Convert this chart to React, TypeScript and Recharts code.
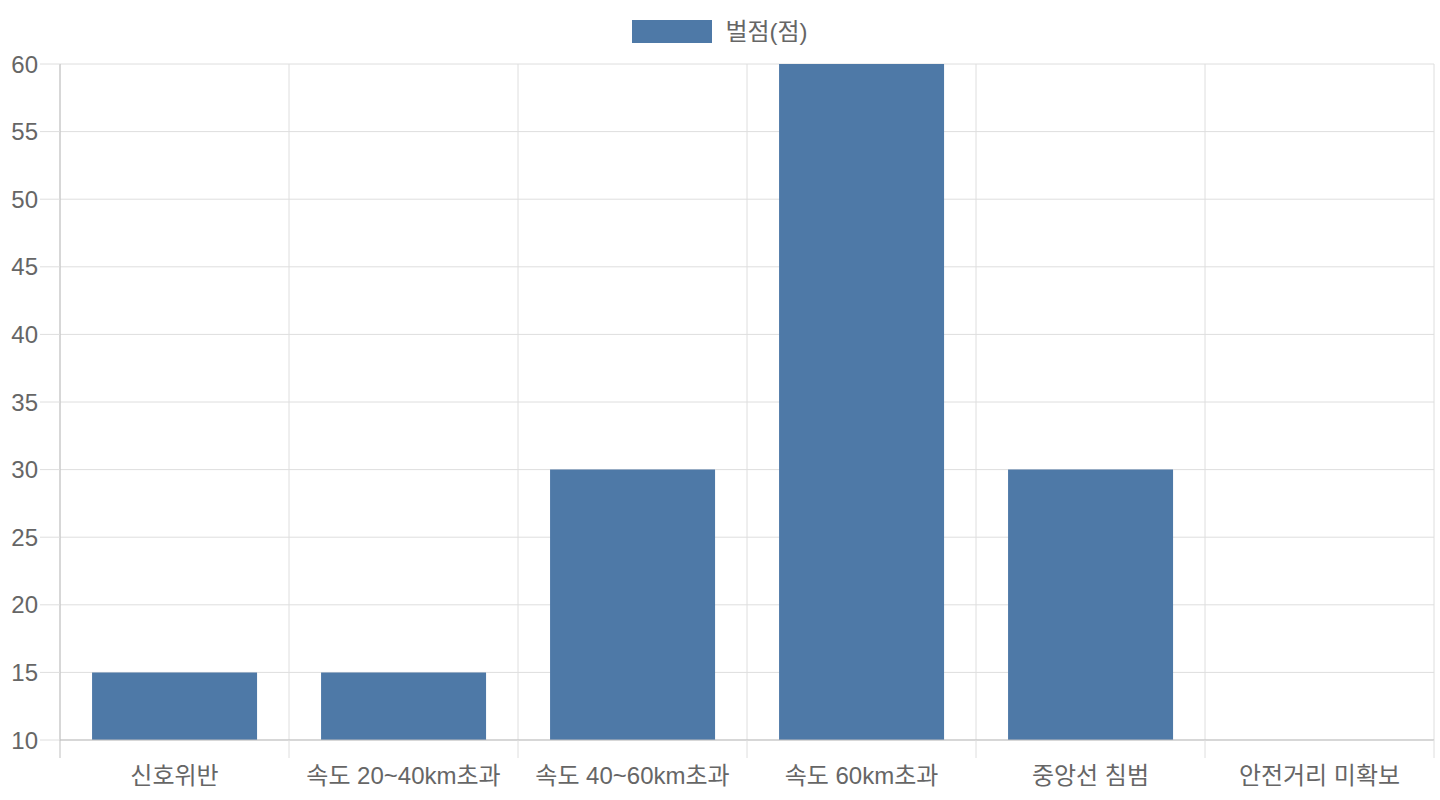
import { BarChart, Bar, XAxis, YAxis, CartesianGrid, Legend } from "recharts";

const categories = [
    "신호위반",
    "속도 20~40km초과",
    "속도 40~60km초과",
    "속도 60km초과",
    "중앙선 침범",
    "안전거리 미확보",
];
const points = [15, 15, 30, 60, 30, 10];
const yTicks = [10, 15, 20, 25, 30, 35, 40, 45, 50, 55, 60];
const seriesName = "벌점(점)";

const data = categories.map((name, i) => ({ name, value: points[i] }));

const FONT = '"Liberation Sans", Arial, "Noto Sans CJK KR", sans-serif';
const BAR = "#4e79a7";
const GRID = "#dedede";
const ZERO = "#bfbfbf";
const TEXT = "#666666";
const FS = 24;
const X_MARGIN = 27;
const X_TICK = 18;

const LegendBox = () => (
    <div
        style={{
            height: 64,
            display: "flex",
            justifyContent: "center",
            alignItems: "flex-start",
            fontFamily: FONT,
        }}
    >
        <div style={{ display: "flex", alignItems: "center", marginTop: 20 }}>
            <span style={{ width: 80, height: 23, background: BAR, marginRight: 13 }} />
            <span style={{ fontSize: FS, color: TEXT, lineHeight: "23px" }}>
                {seriesName}
            </span>
        </div>
    </div>
);

// category boundaries, from the plot offset the grid gets
const boundaryLines = ({ offset }: any) =>
    categories
        .map((_, i) => i)
        .concat(categories.length)
        .map((t) => offset.left + (offset.width * t) / categories.length);

// label plus the tick marks on both sides of the band
const CategoryTick = (props: any) => {
    const { x, y, payload, index } = props;
    const half = payload.offset || 0;
    const top = y - X_MARGIN;
    const last = index === categories.length - 1;
    return (
        <g>
            <line
                x1={x - half}
                x2={x - half}
                y1={top}
                y2={top + X_TICK}
                stroke={index === 0 ? ZERO : GRID}
            />
            {last && (
                <line
                    x1={x + half}
                    x2={x + half}
                    y1={top}
                    y2={top + X_TICK}
                    stroke={GRID}
                />
            )}
            <text
                x={x}
                y={y}
                dy="0.71em"
                textAnchor="middle"
                fill={TEXT}
                fontSize={FS}
                fontFamily={FONT}
            >
                {payload.value}
            </text>
        </g>
    );
};

export default function App() {
    return (
        <div style={{ position: "absolute", left: 0, top: 0, fontFamily: FONT }}>
            <BarChart
                width={1440}
                height={800}
                data={data}
                margin={{ top: 0, right: 6, bottom: 0, left: 0 }}
                barCategoryGap="14%"
            >
                <Legend
                    verticalAlign="top"
                    align="center"
                    wrapperStyle={{ top: 0, left: 0, width: 1440 }}
                    content={() => <LegendBox />}
                />
                <XAxis
                    dataKey="name"
                    height={60}
                    interval={0}
                    tickLine={false}
                    tickSize={0}
                    tickMargin={X_MARGIN}
                    axisLine={{ stroke: ZERO }}
                    tick={<CategoryTick />}
                />
                <YAxis
                    width={60}
                    domain={[10, 60]}
                    ticks={yTicks}
                    interval={0}
                    allowDataOverflow
                    tickSize={20}
                    tickMargin={2}
                    tickLine={{ stroke: GRID }}
                    axisLine={{ stroke: ZERO }}
                    tick={{ fill: TEXT, fontSize: FS, fontFamily: FONT }}
                />
                <CartesianGrid
                    stroke={GRID}
                    verticalCoordinatesGenerator={boundaryLines}
                />
                <Bar
                    dataKey="value"
                    name={seriesName}
                    fill={BAR}
                    isAnimationActive={false}
                />
            </BarChart>
        </div>
    );
}
